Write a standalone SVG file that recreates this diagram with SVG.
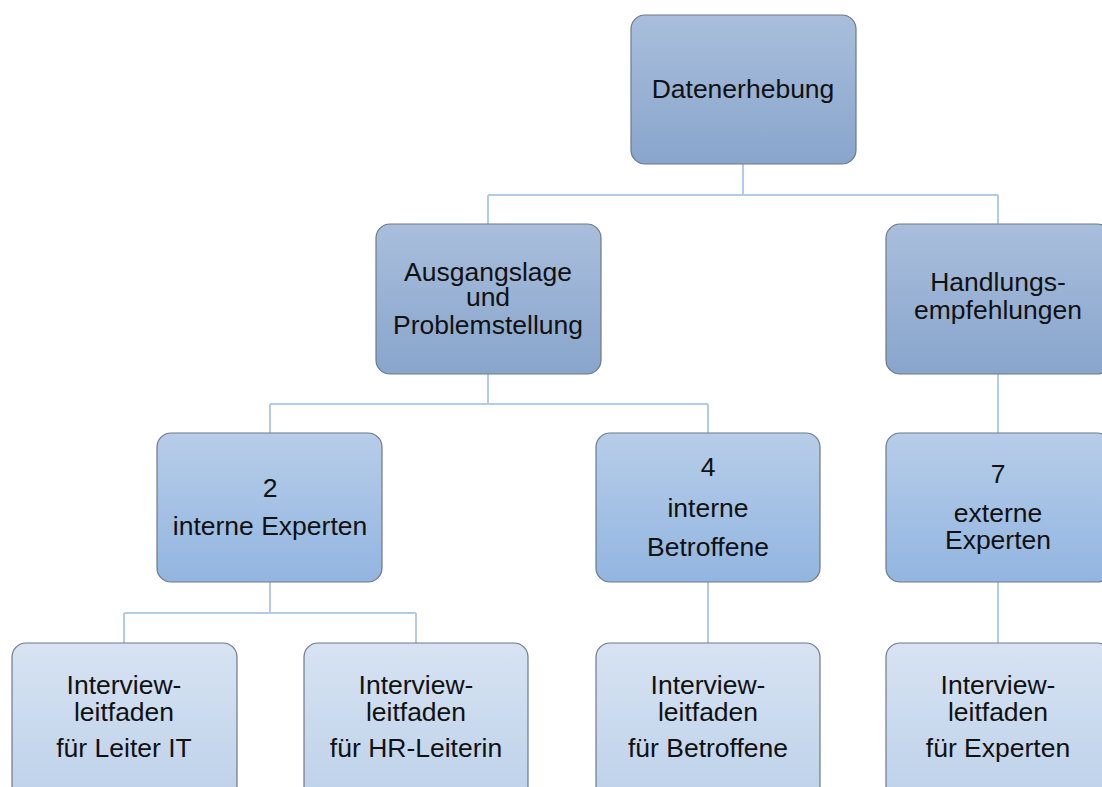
<svg xmlns="http://www.w3.org/2000/svg" width="1102" height="787" viewBox="0 0 1102 787">
<defs>
<linearGradient id="g1" x1="0" y1="0" x2="0" y2="1"><stop offset="0" stop-color="#a9bedc"/><stop offset="1" stop-color="#88a5cc"/></linearGradient>
<linearGradient id="g2" x1="0" y1="0" x2="0" y2="1"><stop offset="0" stop-color="#b7cde9"/><stop offset="1" stop-color="#92b5e0"/></linearGradient>
<linearGradient id="g3" x1="0" y1="0" x2="0" y2="1"><stop offset="0" stop-color="#d7e3f2"/><stop offset="1" stop-color="#bdd1ea"/></linearGradient>
</defs>
<style>
rect{stroke:#6f7887;stroke-width:1.2}
.l1{fill:url(#g1)}.l2{fill:url(#g2)}.l3{fill:url(#g3)}
text{font-family:"Liberation Sans",Arial,sans-serif;font-size:26.5px;fill:#111;text-anchor:middle}
#connectors path{fill:none;stroke:#b3cbe9;stroke-width:2}
</style>
<rect width="1102" height="787" fill="#fff" style="stroke:none"/>
<g id="connectors">
<path d="M743 164V195M488 195H998M488 195V224M998 195V224"/>
<path d="M488 374V404M270 404H708M270 404V433M708 404V433"/>
<path d="M998 374V433"/>
<path d="M270 582V613M124 613H416M124 613V643M416 613V643"/>
<path d="M708 582V643M998 582V643"/>
</g>
<g id="n-datenerhebung"><rect class="l1" x="631" y="15" width="225" height="149" rx="14"/><text x="743" y="98">Datenerhebung</text></g>
<g id="n-ausgangslage"><rect class="l1" x="376" y="224" width="225" height="150" rx="14"/><text x="488" y="281">Ausgangslage</text><text x="488" y="306">und</text><text x="488" y="334">Problemstellung</text></g>
<g id="n-handlung"><rect class="l1" x="886" y="224" width="225" height="150" rx="14"/><text x="998" y="291">Handlungs-</text><text x="998" y="319">empfehlungen</text></g>
<g id="n-intexp"><rect class="l2" x="157" y="433" width="225" height="149" rx="14"/><text x="270" y="497">2</text><text x="270" y="535">interne Experten</text></g>
<g id="n-intbet"><rect class="l2" x="596" y="433" width="224" height="149" rx="14"/><text x="708" y="476">4</text><text x="708" y="517">interne</text><text x="708" y="556">Betroffene</text></g>
<g id="n-extexp"><rect class="l2" x="886" y="433" width="225" height="149" rx="14"/><text x="998" y="483">7</text><text x="998" y="522">externe</text><text x="998" y="549">Experten</text></g>
<g id="n-lit"><rect class="l3" x="12" y="643" width="225" height="160" rx="14"/><text x="124" y="694">Interview-</text><text x="124" y="721">leitfaden</text><text x="124" y="757">für Leiter IT</text></g>
<g id="n-hr"><rect class="l3" x="304" y="643" width="224" height="160" rx="14"/><text x="416" y="694">Interview-</text><text x="416" y="721">leitfaden</text><text x="416" y="757">für HR-Leiterin</text></g>
<g id="n-bet"><rect class="l3" x="596" y="643" width="224" height="160" rx="14"/><text x="708" y="694">Interview-</text><text x="708" y="721">leitfaden</text><text x="708" y="757">für Betroffene</text></g>
<g id="n-exp"><rect class="l3" x="886" y="643" width="225" height="160" rx="14"/><text x="998" y="694">Interview-</text><text x="998" y="721">leitfaden</text><text x="998" y="757">für Experten</text></g>
</svg>
